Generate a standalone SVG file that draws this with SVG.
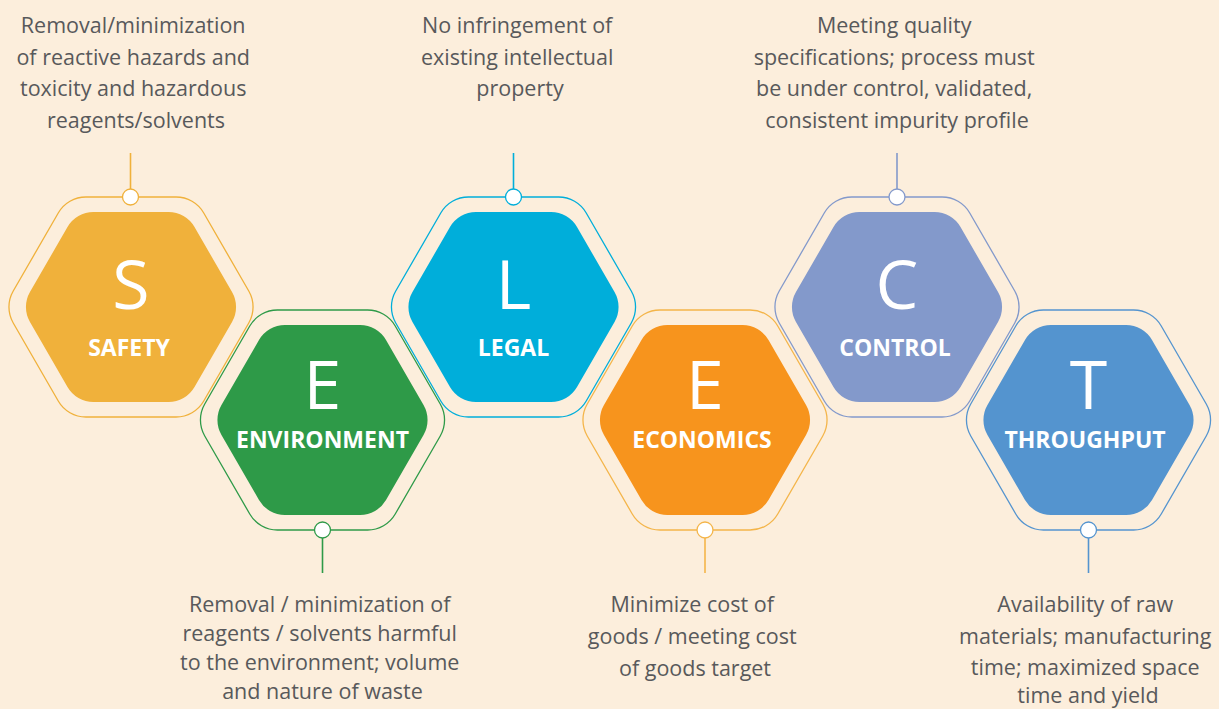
<svg xmlns="http://www.w3.org/2000/svg" xmlns:xlink="http://www.w3.org/1999/xlink" width="1219" height="709" viewBox="0 0 1219 709">
  <defs>
    <!-- rounded hexagons, pointy left/right, centred on 0,0 -->
    <path id="hexOuter" d="M -45.03,-110 H 45.03 A 32 32 0 0 1 72.74,-94 L 117.76,-16 A 32 32 0 0 1 117.76,16 L 72.74,94 A 32 32 0 0 1 45.03,110 H -45.03 A 32 32 0 0 1 -72.74,94 L -117.76,16 A 32 32 0 0 1 -117.76,-16 L -72.74,-94 A 32 32 0 0 1 -45.03,-110 Z"/>
    <path id="hexInner" d="M -37.53,-95 H 37.53 A 30 30 0 0 1 63.51,-80 L 101.04,-15 A 30 30 0 0 1 101.04,15 L 63.51,80 A 30 30 0 0 1 37.53,95 H -37.53 A 30 30 0 0 1 -63.51,80 L -101.04,15 A 30 30 0 0 1 -101.04,-15 L -63.51,-80 A 30 30 0 0 1 -37.53,-95 Z"/>
  </defs>
  <style>
    .bg { fill: #FCEEDC; }
    .ring { fill: #FCEEDC; stroke-width: 1.3; }
    .dot { fill: #FFFFFF; stroke-width: 1.3; }
    .stem { stroke-width: 1.6; fill: none; }
    .letter { font-family: "Open Sans", "Noto Sans", sans-serif; font-size: 68px; fill: #FFFFFF; text-anchor: middle; }
    .label { font-family: "Open Sans", "Noto Sans", sans-serif; font-weight: 700; font-size: 23px; fill: #FFFFFF; text-anchor: middle; }
    .desc { font-family: "Open Sans", "Noto Sans", sans-serif; font-size: 21.5px; fill: #58595B; text-anchor: middle; }
  </style>

  <rect class="bg" x="0" y="0" width="1219" height="709"/>

  <!-- connectors: stems from the hexagons to their descriptions -->
  <g id="connectors">
    <line class="stem" x1="130.5" y1="153" x2="130.5" y2="190" stroke="#F0B13B"/>
    <line class="stem" x1="322.5" y1="536" x2="322.5" y2="573" stroke="#2E9A48"/>
    <line class="stem" x1="513.5" y1="153" x2="513.5" y2="190" stroke="#00AEDA"/>
    <line class="stem" x1="705" y1="536" x2="705" y2="573" stroke="#F4B54A"/>
    <line class="stem" x1="897" y1="153" x2="897" y2="190" stroke="#8399CB"/>
    <line class="stem" x1="1088.5" y1="536" x2="1088.5" y2="573" stroke="#5494CF"/>
  </g>

  <g id="safety">
    <use xlink:href="#hexOuter" transform="translate(131,307)" class="ring" stroke="#F0B13B"/>
    <use xlink:href="#hexInner" transform="translate(131,307)" fill="#F0B13B"/>
    <circle class="dot" cx="130.5" cy="197" r="8" stroke="#F0B13B"/>
    <text class="letter" x="131" y="309">S</text>
    <text class="label" x="129" y="356">SAFETY</text>
    <text class="desc" x="136">
      <tspan x="136" y="33">Removal/minimization</tspan>
      <tspan x="136" y="64.7">of reactive hazards and</tspan>
      <tspan x="136" y="96.3">toxicity and hazardous</tspan>
      <tspan x="136" y="128">reagents/solvents</tspan>
    </text>
  </g>

  <g id="environment">
    <use xlink:href="#hexOuter" transform="translate(322.5,420)" class="ring" stroke="#2E9A48"/>
    <use xlink:href="#hexInner" transform="translate(322.5,420)" fill="#2E9A48"/>
    <circle class="dot" cx="322.5" cy="530" r="8" stroke="#2E9A48"/>
    <text class="letter" x="322.5" y="409">E</text>
    <text class="label" x="322.5" y="448">ENVIRONMENT</text>
    <text class="desc" x="322.5">
      <tspan x="322.5" y="612">Removal / minimization of</tspan>
      <tspan x="322.5" y="641">reagents / solvents harmful</tspan>
      <tspan x="322.5" y="670">to the environment; volume</tspan>
      <tspan x="322.5" y="699">and nature of waste</tspan>
    </text>
  </g>

  <g id="legal">
    <use xlink:href="#hexOuter" transform="translate(513.5,307)" class="ring" stroke="#00AEDA"/>
    <use xlink:href="#hexInner" transform="translate(513.5,307)" fill="#00AEDA"/>
    <circle class="dot" cx="513.5" cy="197" r="8" stroke="#00AEDA"/>
    <text class="letter" x="513.5" y="309">L</text>
    <text class="label" x="513.5" y="356">LEGAL</text>
    <text class="desc" x="520">
      <tspan x="520" y="33">No infringement of</tspan>
      <tspan x="520" y="64.7">existing intellectual</tspan>
      <tspan x="520" y="96.3">property</tspan>
    </text>
  </g>

  <g id="economics">
    <use xlink:href="#hexOuter" transform="translate(705,420)" class="ring" stroke="#F4B54A"/>
    <use xlink:href="#hexInner" transform="translate(705,420)" fill="#F7941D"/>
    <circle class="dot" cx="705" cy="530" r="8" stroke="#F4B54A"/>
    <text class="letter" x="705" y="409">E</text>
    <text class="label" x="702" y="448">ECONOMICS</text>
    <text class="desc" x="695">
      <tspan x="695" y="612">Minimize cost of</tspan>
      <tspan x="695" y="644">goods / meeting cost</tspan>
      <tspan x="695" y="676">of goods target</tspan>
    </text>
  </g>

  <g id="control">
    <use xlink:href="#hexOuter" transform="translate(897,307)" class="ring" stroke="#8399CB"/>
    <use xlink:href="#hexInner" transform="translate(897,307)" fill="#8399CB"/>
    <circle class="dot" cx="897" cy="197" r="8" stroke="#8399CB"/>
    <text class="letter" x="897" y="309">C</text>
    <text class="label" x="895" y="356">CONTROL</text>
    <text class="desc" x="897">
      <tspan x="897" y="33">Meeting quality</tspan>
      <tspan x="897" y="64.7">specifications; process must</tspan>
      <tspan x="897" y="96.3">be under control, validated,</tspan>
      <tspan x="897" y="128">consistent impurity profile</tspan>
    </text>
  </g>

  <g id="throughput">
    <use xlink:href="#hexOuter" transform="translate(1088.5,420)" class="ring" stroke="#5494CF"/>
    <use xlink:href="#hexInner" transform="translate(1088.5,420)" fill="#5494CF"/>
    <circle class="dot" cx="1088.5" cy="530" r="8" stroke="#5494CF"/>
    <text class="letter" x="1088.5" y="409">T</text>
    <text class="label" x="1085" y="448">THROUGHPUT</text>
    <text class="desc" x="1088">
      <tspan x="1088" y="612">Availability of raw</tspan>
      <tspan x="1088" y="644">materials; manufacturing</tspan>
      <tspan x="1088" y="675">time; maximized space</tspan>
      <tspan x="1088" y="703">time and yield</tspan>
    </text>
  </g>
</svg>
